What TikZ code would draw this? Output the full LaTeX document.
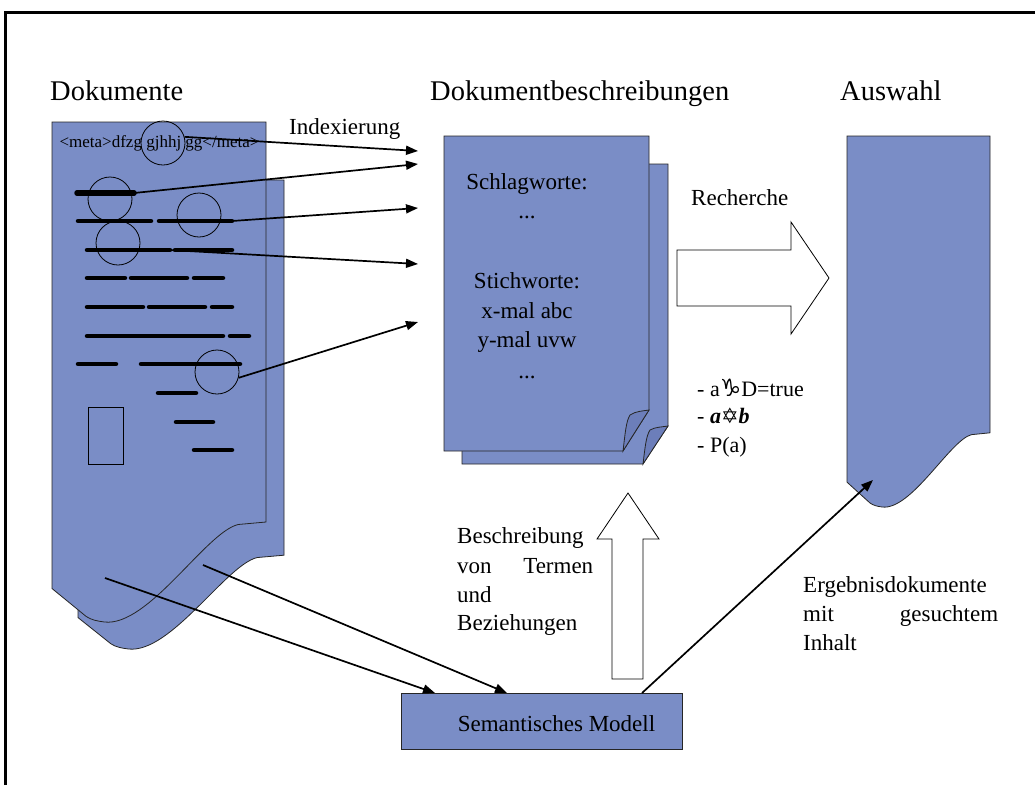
\documentclass[tikz,border=0pt]{standalone}
\usepackage{fontspec}
\setmainfont{Liberation Serif}
\newfontfamily\symfont{DejaVu Sans}
\usetikzlibrary{arrows.meta}
\definecolor{docblue}{RGB}{122,141,198}
\definecolor{foldblue}{RGB}{108,126,186}
\newcommand\px[1]{\fontsize{#1pt}{#1pt}\selectfont}
% unit page outline: straight top, wavy bottom rising to the right
\newcommand\pagepath{(0,0) -- (1,0) -- (1,0.80) -- (0.87,0.805)
  .. controls (0.72,0.82) and (0.45,1.01) .. (0.245,1.0)
  .. controls (0.21,0.998) and (0.185,0.996) .. (0.16,0.989) -- (0,0.933) -- cycle}

\begin{document}
\begin{tikzpicture}[x=1pt,y=-1pt,
  docpage/.style={fill=docblue,draw=black!85,line width=0.8pt},
  textbar/.style={line width=4.5pt,line cap=round},
  lens/.style={draw,circle,line width=0.8pt,minimum size=44pt,inner sep=0pt},
  idxarrow/.style={line width=1.7pt,-{Triangle[length=12pt,width=9pt]}},
  blockarrow/.style={fill=white,draw,line width=0.8pt},
  txt/.style={font=\px{23},inner sep=0pt,anchor=base west},
  ctxt/.style={font=\px{23},inner sep=0pt,anchor=base},
  title/.style={font=\px{28.5},inner sep=0pt,anchor=base west}]
\useasboundingbox (0,0) rectangle (1035,785);
\fill[white] (0,0) rectangle (1035,785);

% frame
\draw[line width=3pt] (5.5,785) -- (5.5,12.5) -- (1035,12.5);

% column titles
\node[title] (tdok) at (50,100) {Dokumente};
\node[title] (tbes) at (430,100) {Dokumentbeschreibungen};
\node[title] (taus) at (840,100) {Auswahl};

% source documents
\path[docpage,shift={(78,180)},xscale=206,yscale=469] \pagepath;
\path[docpage,shift={(52,122)},xscale=214,yscale=500] \pagepath;

\node[font=\px{17},inner sep=0pt,anchor=base] (meta) at (159.5,147) {<meta>dfzg gjhhj gg</meta>};

% text lines of the document
\draw[textbar,line width=5.5pt] (77,193) -- (134,193) coordinate (b1);
\draw[textbar] (78,221) -- (151,221);
\draw[textbar] (159,221) -- (232,221) coordinate (b2);
\draw[textbar] (87,250) -- (170,250) coordinate (b3);
\draw[textbar] (175,250) -- (232,250);
\draw[textbar] (87,278) -- (125,278) (131,278) -- (187,278) (194,278) -- (223,278);
\draw[textbar] (87,307) -- (143,307) (149,307) -- (205,307) (212,307) -- (232,307);
\draw[textbar] (87,336) -- (223,336) (230,336) -- (249,336);
\draw[textbar] (78,364) -- (116,364) (141,364) -- (240,364);
\draw[textbar] (158,393) -- (196,393);
\draw[textbar] (176,422) -- (213,422);
\draw[textbar] (194,450) -- (232,450);
\draw[line width=0.8pt] (88,407) rectangle (123,464);

% magnifying lenses over indexed terms
\node[lens] (c1) at (163,143) {};
\node[lens] (c2) at (110,199) {};
\node[lens] (c3) at (199,215) {};
\node[lens] (c4) at (118,243) {};
\node[lens] (c5) at (217,372) {};

% description documents
\draw[docpage] (462,164) -- (668,164) -- (668,426) -- (643,464) -- (462,464) -- cycle;
\draw[docpage,fill=foldblue] (643,464) .. controls (645,448) and (646,436) .. (650,430)
  .. controls (655,427) and (662,427) .. (668,426) -- cycle;
\draw[docpage] (444,136) -- (649,136) -- (649,410) -- (623,451) -- (444,451) -- cycle;
\draw[docpage,fill=foldblue] (623,451) .. controls (625,435) and (626,421) .. (630,415)
  .. controls (636,411) and (643,411) .. (649,410) -- cycle;

\node[ctxt] (schl) at (527,189) {Schlagworte:};
\node[ctxt] (dots1) at (527,218) {...};
\node[ctxt] (stich) at (527,288) {Stichworte:};
\node[ctxt] (xmal) at (527,318) {x-mal abc};
\node[ctxt] (ymal) at (527,347) {y-mal uvw};
\node[ctxt] (dots2) at (527,378) {...};

% indexing arrows
\coordinate (t1) at (418,151);
\coordinate (t2) at (418,164);
\coordinate (t3) at (418,208);
\coordinate (t4) at (418,264);
\coordinate (t5) at (418,322);
\draw[idxarrow] (c1.16) -- (t1);
\draw[idxarrow] (b1) -- (t2);
\draw[idxarrow] (b2) -- (t3);
\draw[idxarrow] (b3) -- (t4);
\draw[idxarrow] (c5.-15) -- (t5);
\node[txt] (idx) at (289,134) {Indexierung};

% selection document
\path[docpage,shift={(847,136)},xscale=143,yscale=371] \pagepath;
\coordinate (hit) at (873,480);

% query block arrow
\draw[blockarrow] (677,250) -- (791,250) -- (791,222) -- (829,278) -- (791,334)
  -- (791,306) -- (677,306) -- cycle;
\node[txt] (rech) at (691,205) {Recherche};

% predicates
\node[font=\px{22},inner sep=0pt,anchor=base west] (p1) at (697,396) {- a{\symfont\px{24}♑}D=true};
\node[font=\px{22},inner sep=0pt,anchor=base west] (p2) at (697,423) {- \textbf{\textit{a}}{\symfont\px{21}✡}\textbf{\textit{b}}};
\node[font=\px{22},inner sep=0pt,anchor=base west] (p3) at (697,452) {- P(a)};

% semantic model
\node[draw=black!85,fill=docblue,line width=0.8pt,minimum width=281pt,minimum height=56pt,
  inner sep=0pt,anchor=north west] (sem) at (401,693) {};
\node[ctxt] (semlbl) at (556.5,731) {Semantisches Modell};

\draw[blockarrow] (612,679) -- (612,539) -- (597,539) -- (628,493) -- (659,539)
  -- (643,539) -- (643,679) -- cycle;
\node[txt] (bes1) at (457,543) {Beschreibung};
\node[txt] (bes2) at (457,573) {\makebox[136pt][s]{von\hfill Termen}};
\node[txt] (bes3) at (457,602) {und};
\node[txt] (bes4) at (457,630) {Beziehungen};

\coordinate (s1) at (105,578);
\coordinate (s2) at (203,565);
\draw[idxarrow] (s1) -- ([xshift=34pt]sem.north west);
\draw[idxarrow] (s2) -- ([xshift=106pt]sem.north west);
\draw[idxarrow] ([xshift=241pt]sem.north west) -- (hit);

\node[txt] (erg1) at (803,592) {Ergebnisdokumente};
\node[txt] (erg2) at (803,621) {\makebox[195pt][s]{mit\hfill gesuchtem}};
\node[txt] (erg3) at (803,650) {Inhalt};
\end{tikzpicture}
\end{document}
